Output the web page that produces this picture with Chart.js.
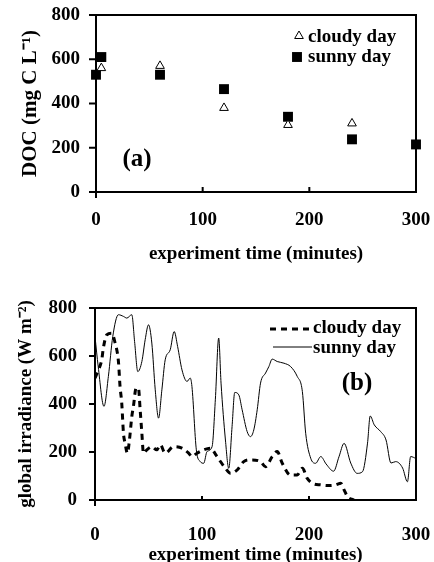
<!DOCTYPE html>
<html>
<head>
<meta charset="utf-8">
<script src="https://cdn.jsdelivr.net/npm/chart.js@4"></script>
<style>
  body { margin: 0; background: #fff; }
  canvas { position: absolute; left: 0; }
  #docChart { top: 0; }
  #irrChart { top: 280px; }
</style>
</head>
<body>
<canvas id="docChart" width="434" height="280"></canvas>
<canvas id="irrChart" width="434" height="282"></canvas>
<script>
// (a) DOC samples
const docCloudyTime = [5, 60, 120, 180, 240];
const docCloudy = [560, 570, 380, 303, 310];
const docSunnyTime = [0, 5, 60, 120, 180, 240, 300];
const docSunny = [530, 610, 530, 465, 340, 238, 215];

// (b) global irradiance
const irrCloudyTime = [0, 3, 6.3, 7.8, 11, 15.6, 18.8, 21.9, 23.4, 25, 26.6, 28.1, 30.3, 32.2, 34.4, 35.9, 38.4, 40.6, 42.2, 43.8, 45.3, 48.4, 53.1, 57.8, 61, 65.6, 73.4, 81.3, 87.5, 90.6, 95.3, 101.5, 107.8, 114, 121.9, 126.6, 132.8, 139, 145.3, 154.7, 159.4, 165.6, 170.3, 175, 182.8, 189, 193.8, 198.4, 203, 211, 220, 225, 229.7, 232.8, 236, 242];
const irrCloudy = [508, 540, 584, 633, 688, 695, 654, 577, 473, 404, 278, 237, 195, 250, 348, 390, 466, 466, 376, 278, 195, 209, 222, 209, 230, 195, 222, 216, 195, 181, 195, 209, 216, 181, 132, 111, 125, 160, 167, 160, 139, 181, 202, 153, 104, 104, 132, 90, 70, 63, 60, 63, 70, 42, 14, 0];
const irrSunnyTime = [0, 3, 8.4, 12.5, 16.6, 21.9, 26.6, 29.7, 34.4, 37, 40, 43.8, 46.9, 50, 53.1, 56.3, 59.4, 62.5, 65.6, 70.3, 74, 77.2, 81.3, 86, 89, 90.6, 94.7, 98.4, 101.6, 104.7, 109.4, 112.5, 115.6, 117.8, 121.9, 125, 128.1, 130.6, 134.4, 137.5, 142.2, 145.3, 148.4, 151.6, 154.7, 159.4, 162.5, 165.6, 170.3, 176.6, 182.8, 189, 193.8, 196.9, 201.6, 206.2, 211, 216, 223, 228, 232.8, 239, 245, 250, 254.7, 257.2, 261, 267, 272, 276.6, 281, 287.5, 292, 295, 300];
const irrSunny = [681, 556, 390, 515, 681, 772, 765, 758, 772, 660, 535, 577, 668, 730, 654, 459, 341, 459, 584, 626, 702, 640, 542, 494, 508, 473, 209, 160, 153, 202, 222, 420, 675, 487, 250, 132, 306, 448, 438, 376, 285, 264, 292, 376, 487, 529, 556, 587, 577, 570, 556, 515, 452, 278, 174, 153, 181, 150, 120, 180, 236, 154, 111, 118, 237, 350, 313, 285, 250, 154, 160, 133, 76, 181, 173];

// tick labels
const timeTicks = [0, 100, 200, 300];
const valueTicks = [0, 200, 400, 600, 800];

const serif = "'Liberation Serif', 'Times New Roman', serif";

function pairs(xs, ys) {
    return xs.map((x, i) => ({ x, y: ys[i] }));
}

// frame, tick marks, legend and panel letter
const framePlugin = {
    id: "frame",
    beforeDatasetsDraw(chart, args, opts) {
        const { ctx, chartArea: a, scales: { x, y } } = chart;
        ctx.save();
        ctx.strokeStyle = "#000";
        ctx.lineWidth = 2;
        ctx.strokeRect(a.left, a.top, a.right - a.left, a.bottom - a.top);
        ctx.beginPath();
        y.ticks.forEach(t => {
            const py = y.getPixelForValue(t.value);
            ctx.moveTo(a.left - opts.yTick, py);
            ctx.lineTo(a.left + 1, py);
        });
        x.ticks.forEach(t => {
            const px = x.getPixelForValue(t.value);
            ctx.moveTo(px, a.bottom);
            ctx.lineTo(px, a.bottom - opts.xTick);
        });
        ctx.moveTo(a.left, a.bottom);
        ctx.lineTo(a.left, a.bottom + 6);
        ctx.stroke();
        ctx.restore();
    },
    afterDraw(chart, args, opts) {
        const { ctx } = chart;
        ctx.save();
        ctx.fillStyle = "#000";
        ctx.textBaseline = "middle";
        ctx.textAlign = "left";
        ctx.font = "bold 19px " + serif;
        opts.legend.forEach((item, i) => {
            const ds = chart.data.datasets[i];
            if (item.line) {
                ctx.beginPath();
                ctx.strokeStyle = "#000";
                ctx.lineWidth = ds.borderWidth;
                ctx.setLineDash(ds.borderDash || []);
                ctx.moveTo(item.line[0], item.my);
                ctx.lineTo(item.line[1], item.my);
                ctx.stroke();
                ctx.setLineDash([]);
            } else {
                ctx.strokeStyle = ds.borderColor;
                ctx.fillStyle = ds.backgroundColor;
                ctx.lineWidth = ds.borderWidth;
                Chart.helpers.drawPoint(ctx, {
                    pointStyle: ds.pointStyle,
                    radius: ds.pointRadius,
                    borderWidth: ds.borderWidth
                }, item.mx, item.my);
                ctx.fillStyle = "#000";
            }
            ctx.fillText(ds.label, item.tx, item.ty);
        });
        ctx.font = "bold 25px " + serif;
        ctx.textAlign = "center";
        ctx.fillText(opts.tag.text, opts.tag.x, opts.tag.y);
        ctx.restore();
    }
};

function axes(cfg) {
    return {
        x: {
            type: "linear",
            min: 0,
            max: 300,
            afterBuildTicks: s => { s.ticks = timeTicks.map(v => ({ value: v })); },
            afterFit: s => {
                s.height = cfg.xHeight;
                s.paddingLeft = 0;
                s.paddingRight = 0;
            },
            grid: { display: false, drawTicks: false },
            border: { display: false },
            ticks: {
                color: "#000",
                maxRotation: 0,
                autoSkip: false,
                padding: cfg.xPad,
                font: { family: serif, size: 19, weight: "bold", lineHeight: 1 }
            },
            title: {
                display: true,
                text: "experiment time (minutes)",
                color: "#000",
                padding: { top: 0, bottom: cfg.xTitlePad },
                font: { family: serif, size: 19, weight: "bold", lineHeight: 1 }
            }
        },
        y: {
            min: 0,
            max: 800,
            afterBuildTicks: s => { s.ticks = valueTicks.map(v => ({ value: v })); },
            afterFit: s => {
                s.width = cfg.yWidth;
                s.paddingTop = 0;
                s.paddingBottom = 0;
            },
            grid: { display: false, drawTicks: false },
            border: { display: false },
            ticks: {
                color: "#000",
                padding: cfg.yPad,
                font: { family: serif, size: 19, weight: "bold", lineHeight: 1 }
            },
            title: {
                display: true,
                text: cfg.yTitle,
                color: "#000",
                padding: { top: cfg.yTitlePad, bottom: 0 },
                font: { family: serif, size: cfg.yTitleSize, weight: "bold", lineHeight: 1 }
            }
        }
    };
}

// 📊 (a) DOC
new Chart(document.getElementById("docChart"), {
    type: "scatter",
    data: {
        datasets: [{
            label: "cloudy day",
            data: pairs(docCloudyTime, docCloudy),
            pointStyle: "triangle",
            pointRadius: 5,
            borderWidth: 1,
            borderColor: "#000",
            backgroundColor: "#fff",
            clip: false
        }, {
            label: "sunny day",
            data: pairs(docSunnyTime, docSunny),
            pointStyle: "rect",
            pointRadius: 7,
            borderWidth: 0,
            borderColor: "#000",
            backgroundColor: "#000",
            clip: false
        }]
    },
    options: {
        responsive: false,
        animation: false,
        layout: { padding: { top: 15, right: 18, left: 0, bottom: 0 } },
        plugins: {
            legend: { display: false },
            tooltip: { enabled: false },
            frame: {
                yTick: 7,
                xTick: 5,
                legend: [
                    { mx: 299, my: 36, tx: 308, ty: 37 },
                    { mx: 297, my: 57, tx: 308, ty: 57 }
                ],
                tag: { text: "(a)", x: 137, y: 160 }
            }
        },
        scales: axes({
            xHeight: 88, xPad: 18.5, xTitlePad: 16.5,
            yWidth: 96, yPad: 16, yTitlePad: 20.5, yTitleSize: 21,
            yTitle: "DOC (mg C L\u207B\u00B9)"
        })
    },
    plugins: [framePlugin]
});

// 📈 (b) irradiance
new Chart(document.getElementById("irrChart"), {
    type: "line",
    data: {
        datasets: [{
            label: "cloudy day",
            data: pairs(irrCloudyTime, irrCloudy),
            borderColor: "#000",
            borderWidth: 3,
            borderDash: [6, 5],
            pointRadius: 0,
            cubicInterpolationMode: "monotone",
            fill: false
        }, {
            label: "sunny day",
            data: pairs(irrSunnyTime, irrSunny),
            borderColor: "#000",
            borderWidth: 1,
            pointRadius: 0,
            cubicInterpolationMode: "monotone",
            fill: false
        }]
    },
    options: {
        responsive: false,
        animation: false,
        layout: { padding: { top: 28, right: 18, left: 0, bottom: 0 } },
        plugins: {
            legend: { display: false },
            tooltip: { enabled: false },
            frame: {
                yTick: 6,
                xTick: 4,
                legend: [
                    { line: [270, 312], my: 49, tx: 313, ty: 48 },
                    { line: [273, 312], my: 67, tx: 313, ty: 68 }
                ],
                tag: { text: "(b)", x: 357, y: 104 }
            }
        },
        scales: axes({
            xHeight: 62, xPad: 25.5, xTitlePad: -2.5,
            yWidth: 95, yPad: 18, yTitlePad: 17, yTitleSize: 19,
            yTitle: "global irradiance (W m\u207B\u00B2)"
        })
    },
    plugins: [framePlugin]
});
</script>
</body>
</html>
